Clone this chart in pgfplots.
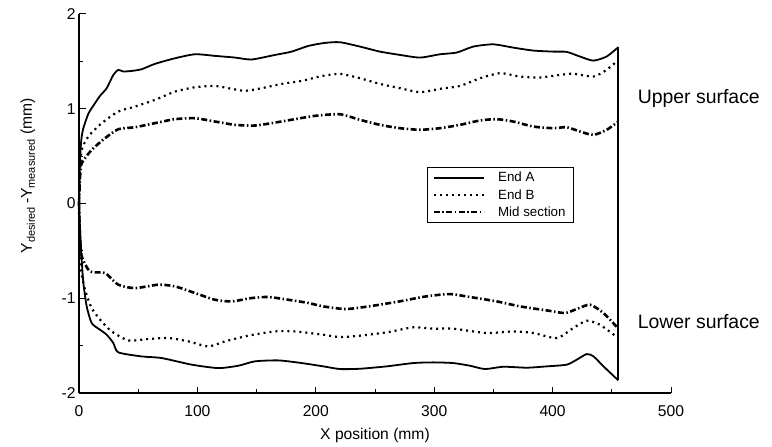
\documentclass[border=0pt]{standalone}
\usepackage{fontspec}
\setmainfont{Liberation Sans}
\usepackage{pgfplots}
\pgfplotsset{compat=1.18}

\begin{document}
\begin{tikzpicture}
\begin{axis}[
    scale only axis,
    width=592bp, height=379bp,
    xmin=0, xmax=500, ymin=-2, ymax=2,
    xtick={0,100,...,500}, ytick={-2,-1,0,1,2},
    minor tick num=1,
    axis x line*=bottom, axis y line*=left,
    axis line style={line width=1.6bp, -},
    tick style={line width=1bp, black},
    major tick length=6.5bp, minor tick length=4.5bp,
    tick align=inside,
    /pgf/number format/assume math mode=true,
    ticklabel style={font=\fontsize{15.7}{18}\selectfont},
    xticklabel style={yshift=-9bp},
    xlabel={X position (mm)},
    ylabel={Y\textsubscript{desired}\,-Y\textsubscript{measured} (mm)},
    label style={font=\fontsize{15.7}{18}\selectfont},
    xlabel style={at={(axis description cs:0.5,-0.124)}, anchor=base},
    ylabel style={at={(axis description cs:-0.0794,0.573)}, anchor=base},
    clip=false,
    legend cell align=left,
    legend image code/.code={\draw[#1] (0bp,0bp) -- (50bp,0bp);},
    legend style={at={(axis cs:294,0.387)}, anchor=north west,
        font=\fontsize{13.4}{15}\selectfont, draw=black, line width=0.8bp,
        inner xsep=5bp, inner ysep=2bp, nodes={inner sep=3bp},
        column sep=10bp, row sep=0bp},
    every axis plot/.append style={black, smooth, tension=0.4},
]
% upper surface
\addplot[line width=1.8bp] coordinates {
(0,0) (0.8,0.45) (2,0.68) (3.7,0.795) (8,0.95) (13.5,1.058) (18,1.14) (23.4,1.217)
(29,1.357) (33.2,1.41) (37.4,1.393) (45,1.40) (52.9,1.417) (64.2,1.474) (81.1,1.533)
(98,1.575) (114.9,1.558) (131.8,1.54) (145.8,1.52) (165.5,1.568) (179.6,1.603)
(193.7,1.663) (207.8,1.695) (220.4,1.702) (237.3,1.656) (254.2,1.603) (271.1,1.568)
(288,1.54) (304.9,1.575) (319,1.593) (333,1.656) (349.9,1.68) (366.8,1.645)
(383.7,1.614) (400.6,1.603) (411.9,1.60) (423.1,1.551) (434.4,1.508) (445.6,1.551)
(455.5,1.65)};
\addlegendentry{End A}
\addplot[line width=2.2bp, dash pattern=on 2bp off 4bp] coordinates {
(0,0) (1,0.35) (2.3,0.566) (7.9,0.707) (19.1,0.847) (33.2,0.97) (47.3,1.023)
(64.2,1.094) (81.1,1.181) (98,1.227) (114.9,1.241) (129,1.21) (140.2,1.189)
(154.3,1.217) (171.2,1.262) (188.1,1.294) (205,1.345) (220.4,1.368) (237.3,1.322)
(254.2,1.262) (271.1,1.217) (288,1.175) (304.9,1.21) (321.8,1.241) (338.7,1.322)
(355.6,1.375) (372.5,1.34) (389.4,1.33) (406.3,1.357) (417.5,1.37) (434.4,1.34)
(445.6,1.41) (455.5,1.515)};
\addlegendentry{End B}
\addplot[line width=2.6bp, dash pattern=on 6bp off 2.5bp on 1.5bp off 2.5bp] coordinates {
(0,0) (1,0.3) (2.3,0.426) (10.7,0.566) (22,0.689) (33.2,0.784) (47.3,0.805)
(64.2,0.848) (81.1,0.89) (98,0.90) (114.9,0.865) (131.8,0.83) (148.7,0.823)
(165.5,0.854) (182.4,0.89) (199.3,0.925) (220.4,0.942) (237.3,0.883) (254.2,0.83)
(271.1,0.795) (288,0.778) (304.9,0.795) (321.8,0.83) (338.7,0.876) (352.8,0.89)
(366.8,0.865) (383.7,0.812) (400.6,0.795) (411.9,0.805) (423.1,0.76) (434.4,0.724)
(445.6,0.777) (455.5,0.865)};
\addlegendentry{Mid section}
% lower surface
\addplot[line width=1.8bp, forget plot] coordinates {
(0,0) (1,-0.3) (2.3,-0.6) (3.7,-0.84) (6.5,-1.086) (10.7,-1.262) (17.7,-1.332)
(23.4,-1.385) (29,-1.473) (33.2,-1.571) (52.9,-1.614) (69.8,-1.631) (95.2,-1.701)
(117.7,-1.737) (134.6,-1.712) (148.6,-1.666) (168.4,-1.656) (188.1,-1.684)
(206.4,-1.719) (220.4,-1.747) (237.3,-1.744) (259.8,-1.719) (282.3,-1.684)
(299.2,-1.677) (316,-1.684) (330.1,-1.712) (342.9,-1.747) (358.4,-1.723)
(378.1,-1.733) (395,-1.719) (411.9,-1.701) (420.3,-1.649) (428.8,-1.589)
(434.5,-1.613) (443,-1.719) (455.5,-1.867)};
\addplot[line width=2.2bp, dash pattern=on 2bp off 4bp, forget plot] coordinates {
(0,0) (0.8,-0.4) (1.7,-0.7) (5.1,-0.91) (10.7,-1.104) (19.1,-1.244) (27.6,-1.35)
(41.7,-1.445) (58.6,-1.43) (75.5,-1.42) (92.3,-1.455) (109.2,-1.508) (123.3,-1.455)
(143,-1.395) (165.5,-1.35) (182.4,-1.35) (206.4,-1.385) (220.4,-1.41) (237.3,-1.395)
(259.8,-1.36) (282.3,-1.307) (299.2,-1.321) (316,-1.321) (344.2,-1.367)
(366.8,-1.35) (383.7,-1.367) (403.6,-1.42) (417.5,-1.314) (428.8,-1.237)
(440,-1.28) (455.5,-1.42)};
\addplot[line width=2.6bp, dash pattern=on 6bp off 2.5bp on 1.5bp off 2.5bp, forget plot] coordinates {
(0,0) (0.8,-0.35) (2.3,-0.559) (9.3,-0.717) (22,-0.734) (33.2,-0.857) (47.3,-0.893)
(67,-0.857) (81.1,-0.875) (98,-0.945) (114.9,-1.016) (129,-1.033) (145.8,-0.998)
(159.9,-0.987) (176.8,-1.016) (193.7,-1.05) (206.4,-1.086) (225.7,-1.114)
(248.2,-1.079) (270.8,-1.033) (293.4,-0.98) (313.3,-0.956) (330.1,-0.987)
(352.8,-1.033) (372.5,-1.086) (395,-1.128) (410.5,-1.156) (420.3,-1.114)
(431.6,-1.068) (442.9,-1.156) (455.5,-1.32)};
% closing edge
\addplot[line width=1.8bp, forget plot, sharp plot] coordinates {(455.5,1.65) (455.5,-1.867)};
\node[anchor=west, font=\fontsize{19.5}{22}\selectfont] at (axis cs:469,1.11) {Upper surface};
\node[anchor=west, font=\fontsize{19.5}{22}\selectfont] at (axis cs:469,-1.25) {Lower surface};
\coordinate (ll) at (rel axis cs:0,0);
\end{axis}
\path (ll) ++(-79bp,-51bp) rectangle ++(772bp,444bp);
\end{tikzpicture}
\end{document}
